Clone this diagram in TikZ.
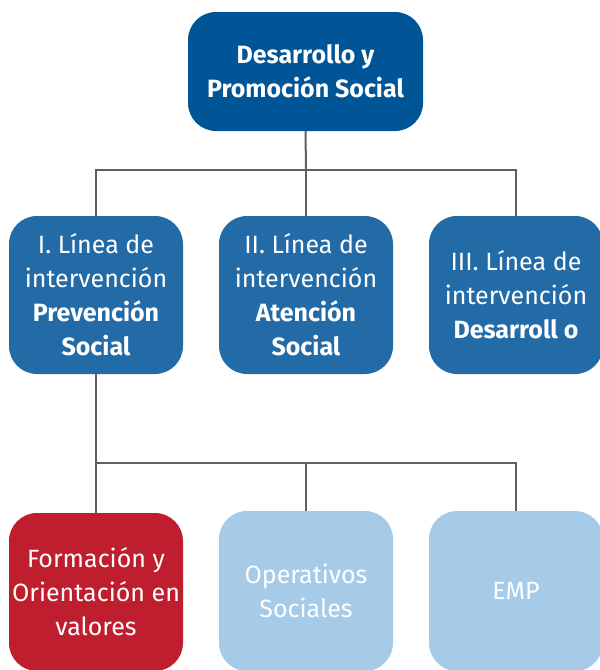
\documentclass[tikz,border=0pt]{standalone}
\usepackage{fontspec}
\setmainfont{Fira Sans}
\definecolor{topblue}{HTML}{005596}
\definecolor{midblue}{HTML}{236BA6}
\definecolor{redc}{HTML}{BE1E2D}
\definecolor{lightblue}{HTML}{A6CBE8}
\definecolor{linec}{HTML}{5F5F5F}
\tikzset{
  box/.style={rounded corners=28pt, minimum width=174pt, align=center, text=white,
    font=\fontsize{25pt}{34pt}\selectfont, inner sep=0pt},
  conn/.style={draw=linec, line width=2pt},
}
\begin{document}
\begin{tikzpicture}[x=1pt,y=-1pt]
\useasboundingbox (0,0) rectangle (600,670);
\clip (0,0) rectangle (600,670);
\node[box, fill=topblue, minimum width=235pt, minimum height=119pt] (top) at (305.5,71.5)
  {\textbf{Desarrollo y}\\\textbf{Promoción Social}};
\node[box, fill=midblue, minimum height=158pt] (m1) at (96,295)
  {I. Línea de\\intervención\\\textbf{Prevención}\\\textbf{Social}};
\node[box, fill=midblue, minimum height=158pt] (m2) at (306,295)
  {II. Línea de\\intervención\\\textbf{Atención}\\\textbf{Social}};
\node[box, fill=midblue, minimum height=158pt] (m3) at (516,295)
  {III. Línea de\\intervención\\\textbf{Desarroll o}};
\node[box, fill=redc, minimum height=158pt] (b1) at (96,592)
  {Formación y\\Orientación en\\valores};
\node[box, fill=lightblue, minimum height=160pt] (b2) at (306,591)
  {Operativos\\Sociales};
\node[box, fill=lightblue, minimum height=160pt] (b3) at (516,591)
  {EMP};
\coordinate (j1) at (306,170);
\coordinate (j2) at (96,463);
\draw[conn] (top.south) -- (j1);
\draw[conn] (m1.north) |- (j1) -| (m3.north);
\draw[conn] (j1) -- (m2.north);
\draw[conn] (m1.south) -- (j2);
\draw[conn] (j2) -- (b1.north);
\draw[conn] (j2) -| (b2.north);
\draw[conn] (j2) -| (b3.north);
\end{tikzpicture}
\end{document}
